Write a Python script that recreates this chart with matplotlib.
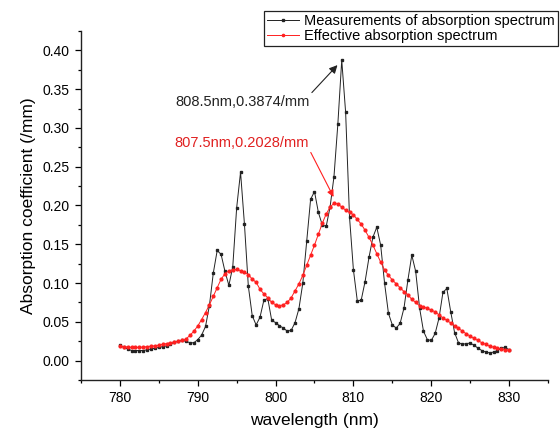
import numpy as np
import matplotlib
matplotlib.use("Agg")
import matplotlib.pyplot as plt
from matplotlib.ticker import MultipleLocator, FormatStrFormatter

plt.rcParams['font.family'] = ['Liberation Sans', 'DejaVu Sans']

# wavelength grid (nm), 0.5 nm steps
wavelength = np.arange(780, 830.5, 0.5)

# measured absorption spectrum (/mm)
measured = [
    0.020, 0.017, 0.015, 0.013, 0.013, 0.013, 0.013, 0.014, 0.015, 0.016,   # 780-784.5
    0.017, 0.018, 0.019, 0.021, 0.024, 0.025, 0.026, 0.025, 0.023, 0.023,   # 785-789.5
    0.027, 0.033, 0.044, 0.071, 0.113, 0.142, 0.137, 0.115, 0.097, 0.121,   # 790-794.5
    0.197, 0.243, 0.176, 0.096, 0.058, 0.046, 0.056, 0.078, 0.080, 0.052,   # 795-799.5
    0.049, 0.045, 0.042, 0.038, 0.039, 0.049, 0.067, 0.100, 0.154, 0.208,   # 800-804.5
    0.218, 0.191, 0.175, 0.173, 0.198, 0.237, 0.305, 0.3874, 0.320, 0.185,  # 805-809.5
    0.117, 0.077, 0.078, 0.102, 0.133, 0.159, 0.172, 0.149, 0.100, 0.061,   # 810-814.5
    0.046, 0.042, 0.048, 0.068, 0.104, 0.136, 0.115, 0.068, 0.038, 0.027,   # 815-819.5
    0.026, 0.035, 0.055, 0.088, 0.093, 0.063, 0.036, 0.023, 0.021, 0.022,   # 820-824.5
    0.0225, 0.020, 0.016, 0.013, 0.011, 0.010, 0.011, 0.013, 0.016, 0.017,  # 825-829.5
    0.014,                                                                  # 830
]

# effective absorption spectrum (/mm)
effective = [
    0.0186, 0.018, 0.0175, 0.017, 0.017, 0.017, 0.0175, 0.018, 0.0186, 0.019,
    0.020, 0.021, 0.022, 0.023, 0.024, 0.025, 0.026, 0.028, 0.0325, 0.038,
    0.0446, 0.053, 0.062, 0.072, 0.083, 0.094, 0.105, 0.112, 0.116, 0.117,
    0.1175, 0.116, 0.114, 0.111, 0.105, 0.101, 0.092, 0.086, 0.081, 0.075,
    0.072, 0.0706, 0.072, 0.075, 0.081, 0.090, 0.099, 0.110, 0.123, 0.136,
    0.149, 0.163, 0.177, 0.189, 0.198, 0.2028, 0.202, 0.198, 0.194, 0.191,
    0.188, 0.182, 0.176, 0.168, 0.159, 0.149, 0.138, 0.127, 0.117, 0.110,
    0.104, 0.099, 0.094, 0.089, 0.085, 0.079, 0.075, 0.0706, 0.069, 0.0676,
    0.065, 0.063, 0.059, 0.055, 0.052, 0.0485, 0.045, 0.0416, 0.038, 0.0346,
    0.0316, 0.0286, 0.026, 0.023, 0.021, 0.0186, 0.0173, 0.0164, 0.015, 0.0143,
    0.0134,
]

fig = plt.figure(figsize=(5.6, 4.34), dpi=100)
ax = fig.add_axes([0.1446, 0.1244, 0.834, 0.8042])

ax.plot(wavelength, measured, color='#222222', lw=0.7, marker='s', ms=2.0,
        label='Measurements of absorption spectrum')
ax.plot(wavelength, effective, color='#ff2020', lw=0.7, marker='o', ms=2.0,
        label='Effective absorption spectrum')

ax.set_xlim(775, 835)
ax.set_ylim(-0.025, 0.425)
ax.xaxis.set_major_locator(MultipleLocator(10))
ax.xaxis.set_minor_locator(MultipleLocator(5))
ax.yaxis.set_major_locator(MultipleLocator(0.05))
ax.yaxis.set_minor_locator(MultipleLocator(0.025))
ax.yaxis.set_major_formatter(FormatStrFormatter('%.2f'))
ax.tick_params(which='major', direction='out', length=4, width=0.9, labelsize=10, pad=4)
ax.tick_params(which='minor', direction='out', length=2.5, width=0.9)

for s in ['top', 'right']:
    ax.spines[s].set_visible(False)
for s in ['left', 'bottom']:
    ax.spines[s].set_linewidth(1.0)
    ax.spines[s].set_color('#222222')

ax.set_xlabel('wavelength (nm)', fontsize=12.5, labelpad=6)
ax.set_ylabel('Absorption coefficient (/mm)', fontsize=12.5, labelpad=5)

ax.annotate('808.5nm,0.3874/mm', xy=(807.95, 0.381), xytext=(795.7, 0.333),
            ha='center', va='center', fontsize=10.5, color='#222222',
            arrowprops=dict(arrowstyle='-|>', color='#222222', lw=0.8,
                            relpos=(1.0, 1.0), shrinkA=0, shrinkB=0,
                            mutation_scale=12))
ax.annotate('807.5nm,0.2028/mm', xy=(807.45, 0.211), xytext=(795.7, 0.281),
            ha='center', va='center', fontsize=10.5, color='#e02020',
            arrowprops=dict(arrowstyle='-|>', color='#ff2020', lw=0.8,
                            relpos=(1.0, 0.0), shrinkA=0, shrinkB=0,
                            mutation_scale=10))

leg = ax.legend(loc='upper right', bbox_to_anchor=(558 / 560, 1 - 11 / 434),
                bbox_transform=fig.transFigure, fontsize=10.5, frameon=True,
                fancybox=False, borderpad=0.2, labelspacing=0.05,
                handlelength=2.2, handletextpad=0.35, borderaxespad=0,
                markerscale=0.8)
leg.get_frame().set_edgecolor('#222222')
leg.get_frame().set_linewidth(0.9)
leg.get_frame().set_alpha(1)

fig.savefig('out.png', dpi=100)
